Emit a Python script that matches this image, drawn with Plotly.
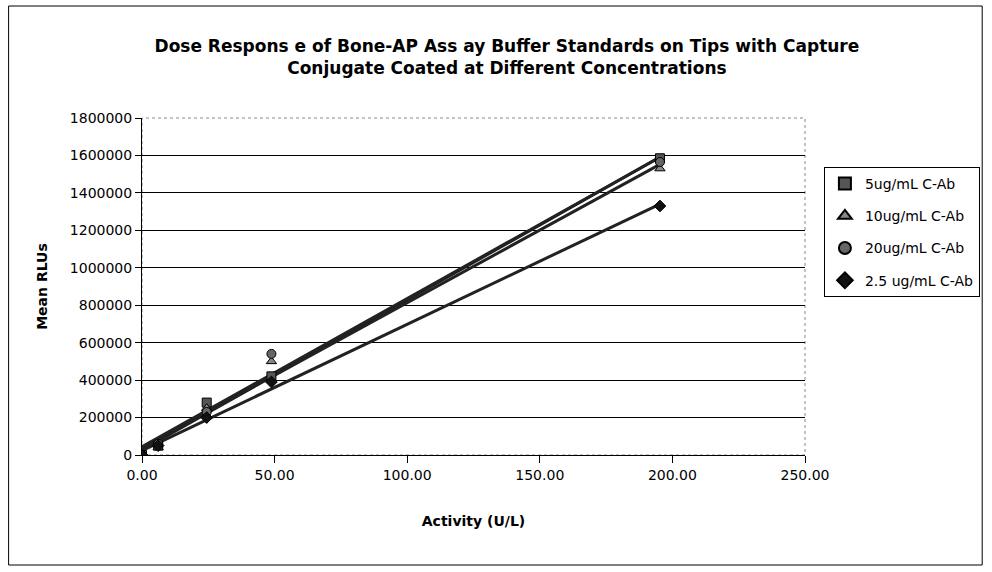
import numpy as np
import plotly.graph_objects as go

activity = [0.0, 6.1, 24.4, 48.8, 195.3]
series_names = ["5ug/mL C-Ab", "10ug/mL C-Ab", "20ug/mL C-Ab", "2.5 ug/mL C-Ab"]
rlu_5 = [0, 50000, 280000, 420000, 1585000]
rlu_10 = [0, 40000, 250000, 500000, 1530000]
rlu_20 = [0, 60000, 230000, 540000, 1565000]
rlu_2_5 = [0, 50000, 200000, 390000, 1330000]
y_ticks = [0, 200000, 400000, 600000, 800000, 1000000, 1200000, 1400000, 1600000, 1800000]
x_ticks = [0, 50, 100, 150, 200, 250]

all_series = [rlu_5, rlu_10, rlu_20, rlu_2_5]
symbols = ["square", "triangle-up", "circle", "diamond"]
mcolors = ["#555555", "#888888", "#666666", "#111111"]

fig = go.Figure()
xs = np.array(activity)
for name, ys in zip(series_names, all_series):
    k, b = np.polyfit(xs, np.array(ys, dtype=float), 1)
    fx = [xs.min(), xs.max()]
    fig.add_trace(go.Scatter(x=fx, y=[k * v + b for v in fx], mode="lines",
                             line=dict(color="#222222", width=3), showlegend=False,
                             hoverinfo="skip"))
for i, (name, ys, sym, mc) in enumerate(zip(series_names, all_series, symbols, mcolors)):
    fig.add_trace(go.Scatter(x=activity, y=ys, mode="markers", name=name,
                             legendgroup=f"g{i}",
                             marker=dict(symbol=sym, size=9, color=mc,
                                         line=dict(color="#000000", width=1))))

L, R, T, B = 142, 808, 118, 455
W, H = 992, 572
pw, ph = R - L, B - T

def px(x):
    return (x - L) / pw

def py(y):
    return (B - y) / ph

TICKFONT = "DejaVu Sans, Liberation Sans, Arial, sans-serif"

fig.update_layout(
    width=W, height=H,
    margin=dict(l=L, r=W - R, t=T, b=H - B, pad=0),
    paper_bgcolor="white", plot_bgcolor="white",
    font=dict(family=TICKFONT, size=14, color="#000000"),
    title=dict(text="<b>Dose Respons e of Bone-AP Ass ay Buffer Standards on Tips with Capture<br>Conjugate Coated at Different Concentrations</b>",
               x=0.511, xref="container", xanchor="center", y=(572 - 52) / 572, yref="container", yanchor="middle",
               font=dict(size=17, family=TICKFONT)),
    xaxis=dict(range=[0, 250], tickvals=x_ticks, ticktext=[f"{v:.2f}" for v in x_ticks],
               showgrid=False, zeroline=False, showline=True, linecolor="#000000", linewidth=1,
               ticks="outside", ticklen=7, tickcolor="#000000", tickfont=dict(size=14),
               title=dict(text="<b>Activity (U/L)</b>", standoff=34, font=dict(size=14))),
    yaxis=dict(range=[0, 1800000], tickvals=y_ticks, ticktext=[str(v) for v in y_ticks],
               showgrid=True, gridcolor="#000000", gridwidth=1, zeroline=False,
               showline=True, linecolor="#000000", linewidth=1,
               ticks="outside", ticklen=6, tickcolor="#000000", tickfont=dict(size=14),
               title=dict(text="<b>Mean RLUs</b>", standoff=18, font=dict(size=14))),
    legend=dict(x=px(827), y=py(167), xanchor="left", yanchor="top",
                bordercolor="#000000", borderwidth=1, bgcolor="white",
                font=dict(size=14), itemsizing="constant", tracegroupgap=11),
    shapes=[
        dict(type="rect", xref="paper", yref="paper", x0=0, x1=1, y0=0, y1=1,
             line=dict(color="#888888", width=1, dash="dot"), layer="below"),
        dict(type="rect", xref="paper", yref="paper", x0=px(8), x1=px(986), y0=py(565), y1=py(6),
             line=dict(color="#000000", width=1)),
    ],
)

fig.write_html("out.html")
